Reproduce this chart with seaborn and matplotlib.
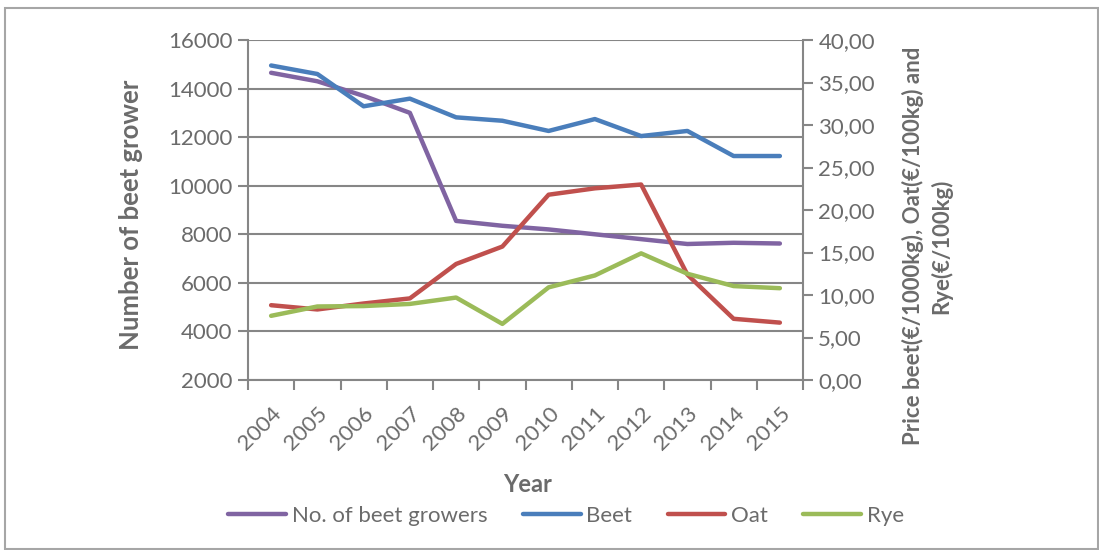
import numpy as np
import pandas as pd
import matplotlib
matplotlib.use("Agg")
import matplotlib.pyplot as plt
import seaborn as sns
from matplotlib.patches import Rectangle
from matplotlib.ticker import FixedLocator, FuncFormatter
from matplotlib.lines import Line2D

# Data
years = [2004, 2005, 2006, 2007, 2008, 2009, 2010, 2011, 2012, 2013, 2014, 2015]
growers = [14650, 14300, 13700, 13000, 8550, 8350, 8200, 8000, 7800, 7600, 7650, 7620]
beet = [37.0, 36.0, 32.2, 33.1, 30.9, 30.5, 29.3, 30.7, 28.7, 29.3, 26.35, 26.35]
oat = [8.8, 8.3, 9.0, 9.6, 13.65, 15.7, 21.8, 22.55, 23.0, 12.4, 7.2, 6.75]
rye = [7.55, 8.65, 8.7, 8.95, 9.7, 6.6, 10.9, 12.3, 14.9, 12.5, 11.05, 10.8]

series_names = ["No. of beet growers", "Beet", "Oat", "Rye"]
colors = ["#8064A2", "#4A7EBB", "#C0504D", "#9BBB59"]

df = pd.DataFrame({"Year": years, "growers": growers, "Beet": beet, "Oat": oat, "Rye": rye})

sns.set_theme(style="white")
plt.rcParams["font.family"] = ["Lato", "DejaVu Sans"]

TEXT = "#6b6b6b"
AXC = "#868686"

W, H = 1099, 550
fig = plt.figure(figsize=(W / 100, H / 100), dpi=100)
fig.patch.set_facecolor("white")

ax = fig.add_axes([248 / W, 1 - 380 / H, 555 / W, 340 / H])
ax2 = ax.twinx()

line_kw = dict(linewidth=3.2, solid_capstyle="round", solid_joinstyle="round")
sns.lineplot(data=df, x="Year", y="growers", ax=ax, color=colors[0], **line_kw)
sns.lineplot(data=df, x="Year", y="Beet", ax=ax2, color=colors[1], **line_kw)
sns.lineplot(data=df, x="Year", y="Oat", ax=ax2, color=colors[2], **line_kw)
sns.lineplot(data=df, x="Year", y="Rye", ax=ax2, color=colors[3], **line_kw)

# Left axis
ax.set_ylim(2000, 16000)
ax.set_yticks(np.arange(2000, 16001, 2000))
ax.yaxis.grid(True, color=AXC, linewidth=1.5)
ax.set_axisbelow(True)
ax.tick_params(axis="y", which="major", direction="out", length=7, width=1.5,
               color=AXC, labelcolor=TEXT, labelsize=16, pad=4, left=True)

# Category x axis: labels at year centres, tick marks at boundaries
ax.set_xlim(years[0] - 0.5, years[-1] + 0.5)
ax.xaxis.set_major_locator(FixedLocator(years))
ax.xaxis.set_minor_locator(FixedLocator(np.arange(years[0] - 0.5, years[-1] + 1, 1.0)))
ax.set_xticklabels([str(y) for y in years], rotation=45, ha="right",
                   rotation_mode="anchor")
ax.tick_params(axis="x", which="major", length=0, labelcolor=TEXT, labelsize=16, pad=17)
ax.tick_params(axis="x", which="minor", direction="out", length=7, width=1.5,
               color=AXC, bottom=True)

for s in ["top", "right"]:
    ax.spines[s].set_visible(False)
for s in ["left", "bottom"]:
    ax.spines[s].set_color(AXC)
    ax.spines[s].set_linewidth(1.5)

# Right axis
ax2.set_ylim(0, 40)
ax2.set_yticks(np.arange(0, 41, 5))
ax2.yaxis.set_major_formatter(FuncFormatter(lambda v, p: f"{v:.2f}".replace(".", ",")))
ax2.tick_params(axis="y", direction="out", length=7, width=1.5, color=AXC,
                labelcolor=TEXT, labelsize=16, pad=4, right=True)
for s in ["top", "left", "bottom"]:
    ax2.spines[s].set_visible(False)
ax2.spines["right"].set_color(AXC)
ax2.spines["right"].set_linewidth(1.5)
ax2.grid(False)

# Axis titles
ax.set_xlabel("Year", fontsize=17, fontweight="bold", color=TEXT)
ax.xaxis.set_label_coords(0.503, -0.274)
ax.set_ylabel("Number of beet grower", fontsize=18.5, fontweight="bold", color=TEXT)
ax.yaxis.set_label_coords(-0.189, 0.485)
ax2.set_ylabel("Price beet(€/1000kg), Oat(€/100kg) and\nRye(€/100kg)",
               fontsize=16, fontweight="bold", color=TEXT, multialignment="center",
               rotation=90, linespacing=1.35)
ax2.yaxis.set_label_coords(1.178, 0.394)

for a in (ax, ax2):
    leg = a.get_legend()
    if leg is not None:
        leg.remove()

handles = [Line2D([], [], color=c, linewidth=3.2, solid_capstyle="round") for c in colors]
fig.legend(handles, series_names, loc="center", bbox_to_anchor=(0.515, 0.062),
           ncol=4, frameon=False, fontsize=16, handlelength=2.6, handletextpad=0.25,
           columnspacing=1.6, labelcolor=TEXT)

# Outer chart border
fig.patches.append(Rectangle((5 / W, 1 / H), (W - 6) / W, (H - 9) / H,
                             transform=fig.transFigure, fill=False,
                             edgecolor="#a6a6a6", linewidth=1.5))

fig.savefig("out.png", dpi=100, facecolor="white")
